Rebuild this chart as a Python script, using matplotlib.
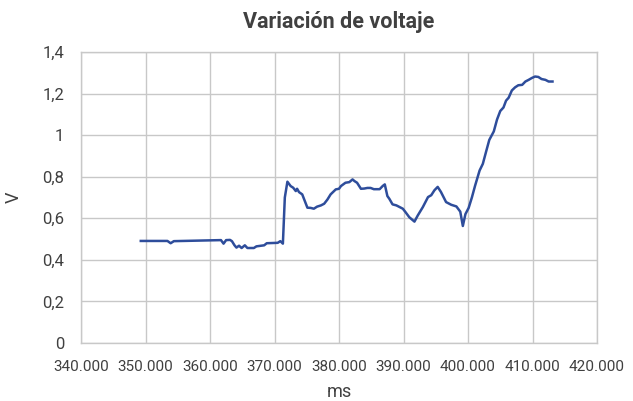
import matplotlib
matplotlib.use("Agg")
import matplotlib.pyplot as plt
from matplotlib.ticker import FuncFormatter, MultipleLocator

plt.rcParams['font.family'] = ['Roboto', 'DejaVu Sans']

title = "Variación de voltaje"
x_label = "ms"
y_label = "V"

time_ms = [349.27, 353.4, 353.9, 354.4, 361.7, 362.1, 362.5, 363.1, 363.4, 363.8, 364.1, 364.5,
           364.9, 365.4, 365.8, 366.8, 367.2, 368.4, 368.8, 370.5, 370.9, 371.3, 371.6, 372.0,
           372.5, 372.9, 373.3, 373.5, 373.8, 374.3, 374.8, 375.1, 375.6, 376.1, 376.6, 377.2,
           377.7, 378.2, 378.7, 379.5, 380.0, 380.3, 381.0, 381.6, 382.1, 382.4, 382.8, 383.4,
           383.9, 384.4, 384.9, 385.4, 386.3, 386.8, 387.1, 387.5, 387.8, 388.3, 388.9, 389.4,
           389.9, 390.3, 390.9, 391.7, 392.2, 393.0, 393.8, 394.3, 394.8, 395.3, 395.8, 396.6,
           397.4, 398.2, 398.8, 399.2, 399.6, 400.1, 400.6, 401.1, 401.8, 402.3, 402.8, 403.3,
           404.0, 404.5, 405.0, 405.5, 405.9, 406.3, 406.8, 407.3, 407.8, 408.4, 408.9, 409.4,
           409.9, 410.4, 410.9, 411.4, 412.0, 412.5, 413.1]
voltage = [0.491, 0.491, 0.480, 0.490, 0.495, 0.478, 0.495, 0.496, 0.490, 0.470, 0.459, 0.468,
           0.457, 0.470, 0.457, 0.457, 0.465, 0.470, 0.480, 0.482, 0.490, 0.478, 0.700, 0.776,
           0.755, 0.747, 0.731, 0.742, 0.726, 0.715, 0.675, 0.651, 0.650, 0.646, 0.656, 0.662,
           0.670, 0.690, 0.715, 0.739, 0.742, 0.755, 0.771, 0.774, 0.787, 0.779, 0.771, 0.742,
           0.743, 0.746, 0.746, 0.740, 0.740, 0.756, 0.763, 0.707, 0.694, 0.667, 0.662, 0.654,
           0.646, 0.630, 0.605, 0.584, 0.613, 0.654, 0.702, 0.711, 0.735, 0.751, 0.727, 0.678,
           0.665, 0.657, 0.632, 0.563, 0.620, 0.650, 0.700, 0.757, 0.830, 0.862, 0.920, 0.977,
           1.018, 1.075, 1.116, 1.133, 1.166, 1.180, 1.215, 1.230, 1.240, 1.242, 1.258, 1.266,
           1.275, 1.282, 1.280, 1.270, 1.266, 1.258, 1.258]

fig = plt.figure(figsize=(6.33, 4.01), dpi=100)
ax = fig.add_axes([81/633, 1 - 343/401, (597-81)/633, (343-52)/401])

ax.plot(time_ms, voltage, color='#2E4D9B', linewidth=1.8)

ax.set_xlim(340, 420)
ax.set_ylim(0, 1.4)
ax.xaxis.set_major_locator(MultipleLocator(10))
ax.yaxis.set_major_locator(MultipleLocator(0.2))
ax.xaxis.set_major_formatter(FuncFormatter(lambda v, p: f"{v:.3f}"))
def yfmt(v, p):
    s = f"{v:.1f}".rstrip('0').rstrip('.')
    return s.replace('.', ',')
ax.yaxis.set_major_formatter(FuncFormatter(yfmt))

ax.grid(True, color='#C8C8C8', linewidth=1.0)
ax.set_axisbelow(True)
for s in ax.spines.values():
    s.set_color('#C8C8C8')
    s.set_linewidth(1.0)
ax.tick_params(axis='x', length=0, labelsize=11, labelcolor='#404040', pad=12)
ax.tick_params(axis='y', length=0, labelsize=12, labelcolor='#404040', pad=12)

ax.set_title(title, fontsize=15.5, fontweight='bold', color='#404040', pad=17)
ax.set_xlabel(x_label, fontsize=13, color='#404040', labelpad=7)
ax.set_ylabel(y_label, fontsize=13, color='#404040', labelpad=14)

fig.savefig("out.png", dpi=100)
